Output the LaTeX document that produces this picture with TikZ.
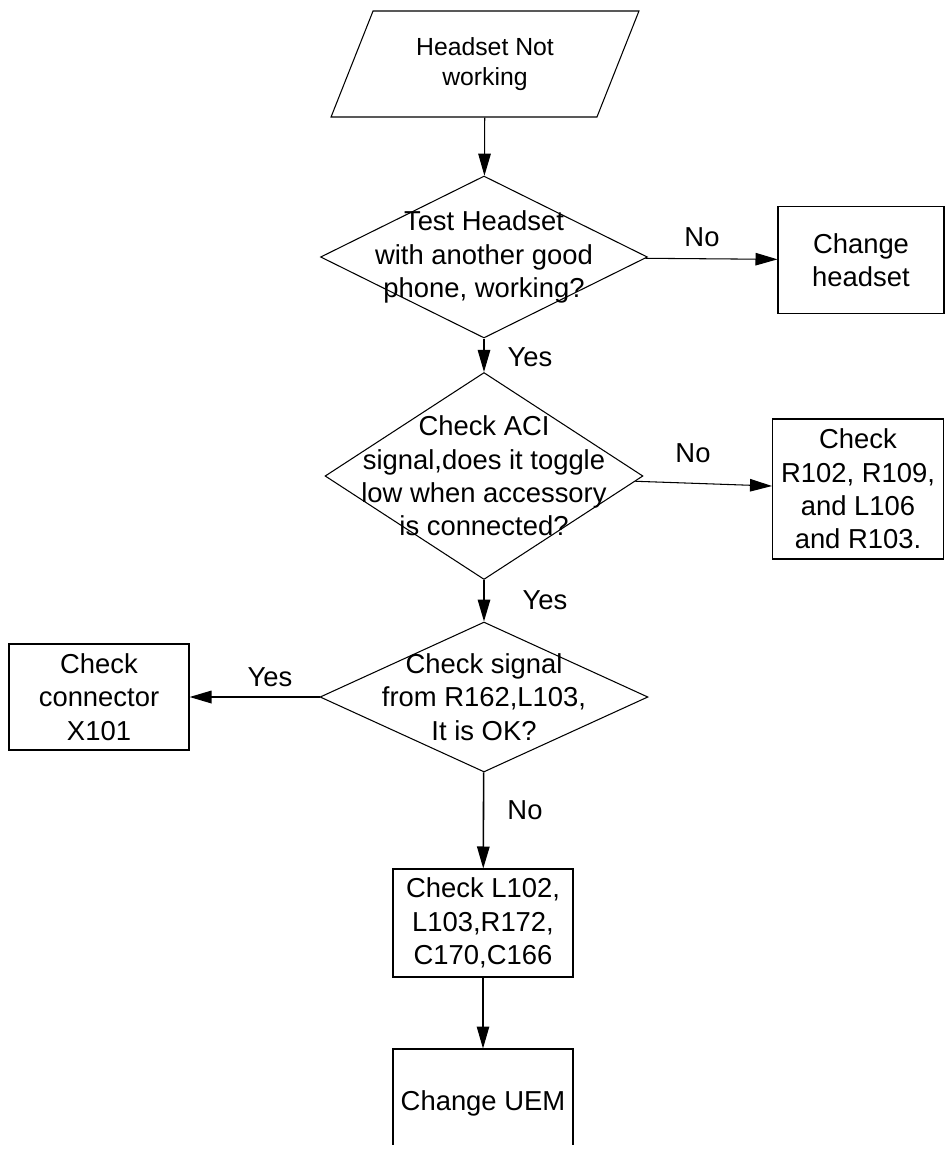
\documentclass[tikz,border=0pt]{standalone}
\usepackage{fontspec}
\setmainfont{Liberation Sans}
\usetikzlibrary{shapes.geometric,arrows.meta}
\tikzset{
    proc/.style={draw,rectangle,align=center,inner sep=0pt},
    decision/.style={draw,diamond,inner sep=0pt},
    qtext/.style={align=center,inner sep=0pt},
    flow/.style={-{Triangle[length=0.44cm,width=0.25cm]}},
}
\begin{document}
\begin{tikzpicture}[x=0.02cm,y=-0.02cm,line width=0.6pt,font=\fontsize{15.6}{19}\selectfont]
    \useasboundingbox (0,0) rectangle (945,1154);
    % start
    \node[trapezium,draw,trapezium left angle=64,trapezium right angle=116,trapezium stretches=true,
        minimum width=6.16cm,minimum height=2.12cm,inner sep=0pt,align=center,
        font=\fontsize{14.1}{17}\selectfont] (start) at (485,64) {Headset Not\\working};
    % decisions
    \node[decision,minimum width=6.54cm,minimum height=3.24cm] (d1) at (484,257) {};
    \node[qtext] (d1t) at (d1) {Test Headset\\with another good\\phone, working?};
    \node[decision,minimum width=6.36cm,minimum height=4.14cm] (d2) at (484,476) {};
    \node[qtext] (d2t) at (d2) {Check ACI\\signal,does it toggle\\low when accessory\\is connected?};
    \node[decision,minimum width=6.56cm,minimum height=3.0cm] (d3) at (484,697) {};
    \node[qtext] (d3t) at (d3) {Check signal\\from R162,L103,\\It is OK?};
    % boxes
    \node[proc,minimum width=3.32cm,minimum height=2.14cm] (headset) at (861,260) {Change\\headset};
    \node[proc,minimum width=3.42cm,minimum height=2.8cm] (rcheck) at (858,489) {Check\\R102, R109,\\and L106\\and R103.};
    \node[proc,minimum width=3.6cm,minimum height=2.12cm] (conn) at (99,697) {Check\\connector\\X101};
    \node[proc,minimum width=3.6cm,minimum height=2.16cm] (lcheck) at (483,923) {Check L102,\\L103,R172,\\C170,C166};
    \begin{scope}
        \clip (0,0) rectangle (945,1144);
        \node[proc,minimum width=3.6cm,minimum height=2.16cm] (uem) at (483,1103) {Change UEM};
    \end{scope}
    % arrows
    \draw[flow] (start) -- (d1);
    \draw[flow] (d1) -- (headset);
    \draw[flow] (d1) -- (d2);
    \draw[flow] (d2) -- (rcheck);
    \draw[flow,line width=0.9pt] (d2) -- (d3);
    \draw[flow,line width=1pt] (d3) -- (conn);
    \draw[flow,line width=0.9pt] (d3) -- (lcheck);
    \draw[flow] (lcheck) -- (uem);
    % labels
    \node (no1) at (702,237) {No};
    \node (yes1) at (530,357) {Yes};
    \node (no2) at (693,453) {No};
    \node (yes2) at (545,600) {Yes};
    \node (yes3) at (270,677) {Yes};
    \node (no3) at (525,810) {No};
\end{tikzpicture}
\end{document}
